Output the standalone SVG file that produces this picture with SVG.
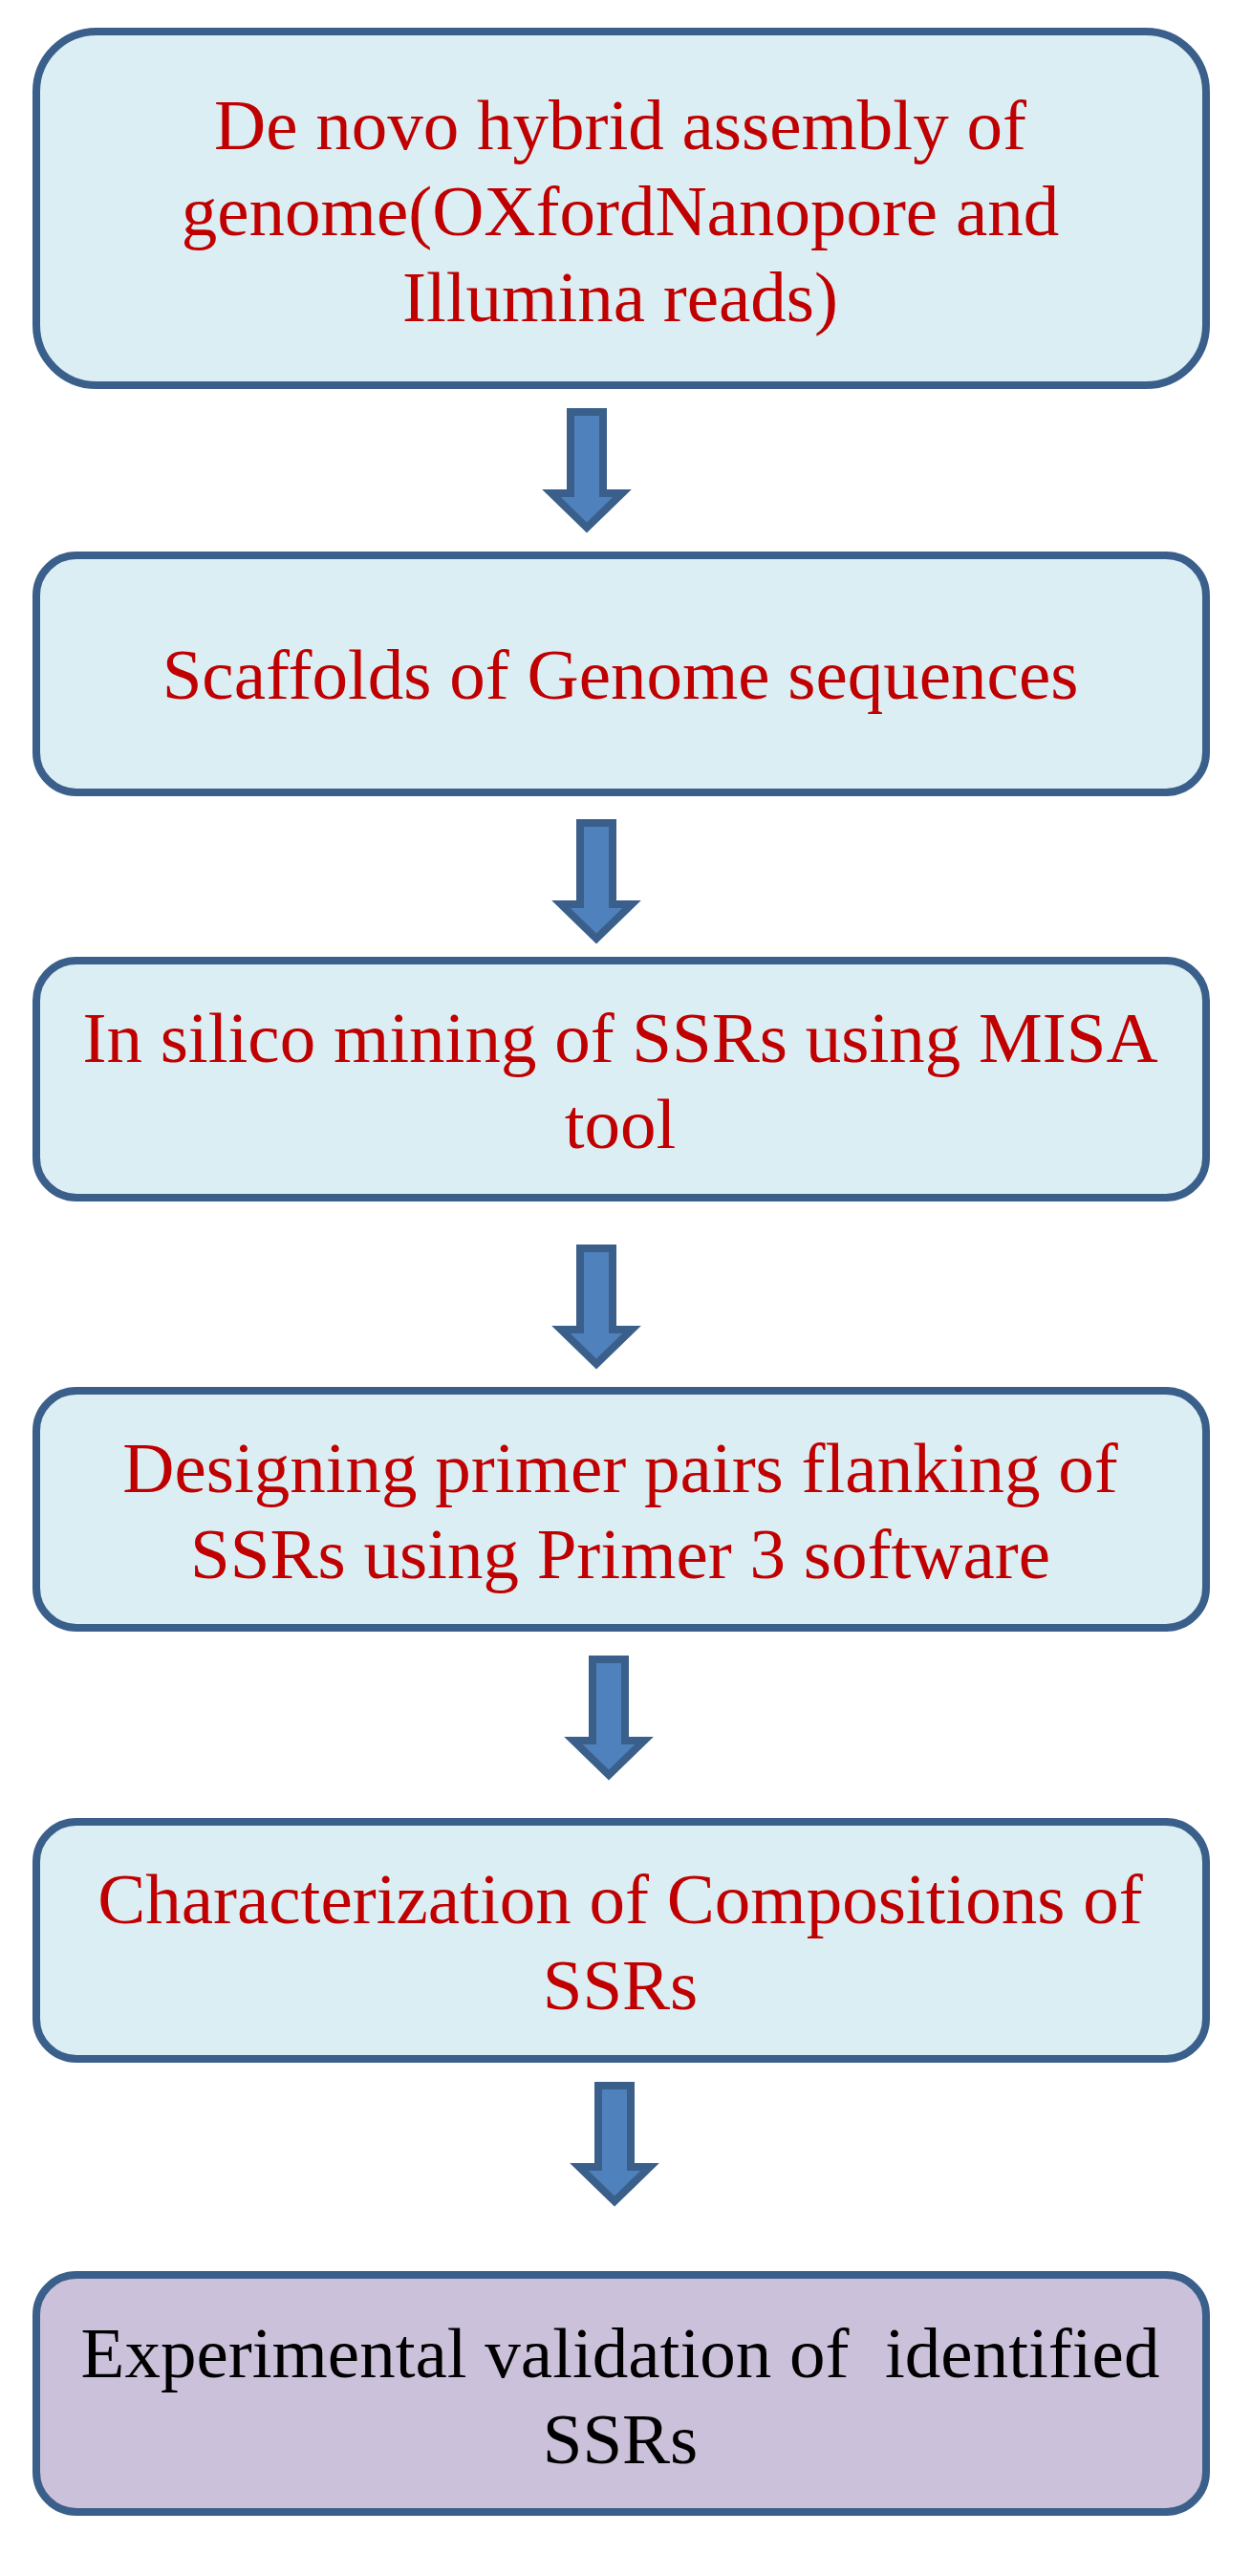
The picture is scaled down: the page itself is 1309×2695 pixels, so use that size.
<svg xmlns="http://www.w3.org/2000/svg" xmlns:xlink="http://www.w3.org/1999/xlink" width="1309" height="2695" viewBox="0 0 1309 2695">
<style>
.box{fill:#DBEEF4;stroke:#3A5F8B;stroke-width:8}
.box2{fill:#CCC1DA;stroke:#3A5F8B;stroke-width:8}
.t{font-family:"Liberation Serif","Times New Roman",serif;font-size:75px;fill:#C00000;text-anchor:middle;white-space:pre}
.k{fill:#000000}
.arr{fill:#4F81BD;stroke:#3A5F8B;stroke-width:8;stroke-linejoin:miter}
</style>
<defs>
<path id="arrow" class="arr" d="M-17,0 H17 V85 H37 L0,121 L-37,85 H-17 Z"/>
</defs>
<rect width="1309" height="2695" fill="#FFFFFF"/>
<g id="connectors">
<use xlink:href="#arrow" href="#arrow" transform="translate(614,431)"/>
<use xlink:href="#arrow" href="#arrow" transform="translate(624,861)"/>
<use xlink:href="#arrow" href="#arrow" transform="translate(624,1306)"/>
<use xlink:href="#arrow" href="#arrow" transform="translate(637,1736)"/>
<use xlink:href="#arrow" href="#arrow" transform="translate(643,2182)"/>
</g>
<g id="node1">
<rect class="box" x="38" y="33" width="1224" height="370" rx="63" ry="63"/>
<text class="t" x="649" y="156">De novo hybrid assembly of</text>
<text class="t" x="649" y="246">genome(OXfordNanopore and</text>
<text class="t" x="649" y="336">Illumina reads)</text>
</g>
<g id="node2">
<rect class="box" x="38" y="581" width="1224" height="248" rx="42" ry="42"/>
<text class="t" x="649" y="731">Scaffolds of Genome sequences</text>
</g>
<g id="node3">
<rect class="box" x="38" y="1005" width="1224" height="248" rx="42" ry="42"/>
<text class="t" x="649" y="1111">In silico mining of SSRs using MISA</text>
<text class="t" x="649" y="1201">tool</text>
</g>
<g id="node4">
<rect class="box" x="38" y="1455" width="1224" height="248" rx="42" ry="42"/>
<text class="t" x="649" y="1561">Designing primer pairs flanking of</text>
<text class="t" x="649" y="1651">SSRs using Primer 3 software</text>
</g>
<g id="node5">
<rect class="box" x="38" y="1906" width="1224" height="248" rx="42" ry="42"/>
<text class="t" x="649" y="2012">Characterization of Compositions of</text>
<text class="t" x="649" y="2102">SSRs</text>
</g>
<g id="node6">
<rect class="box2" x="38" y="2380" width="1224" height="248" rx="42" ry="42"/>
<text class="t k" x="649" y="2487">Experimental validation of  identified</text>
<text class="t k" x="649" y="2577">SSRs</text>
</g>
</svg>
